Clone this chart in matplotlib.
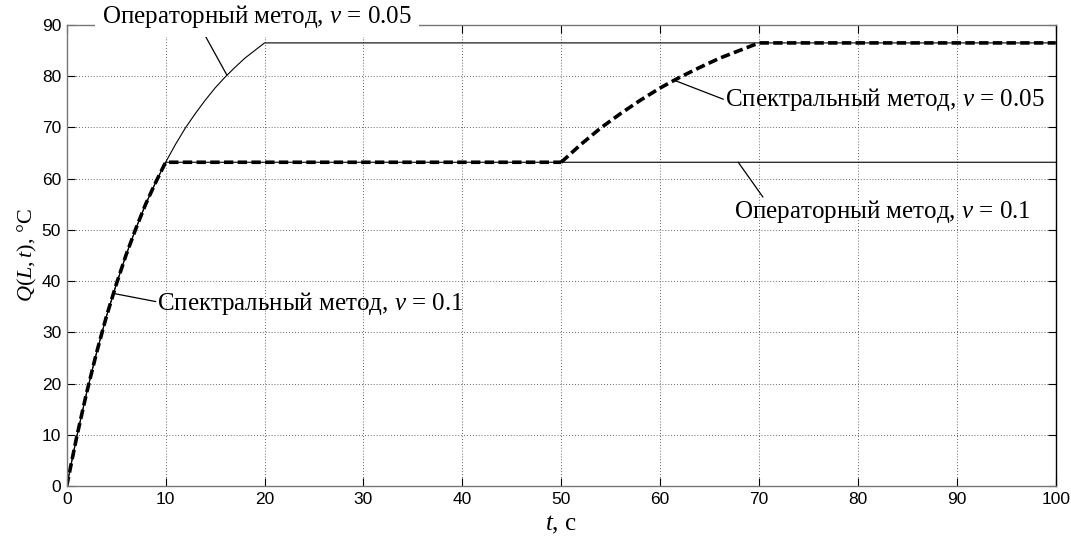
import matplotlib
matplotlib.use("Agg")
import matplotlib.pyplot as plt

# ---- data ----
t_op005 = [0, 1, 2, 3, 4, 5, 6, 7, 8, 9, 10, 11, 12, 13, 14, 15, 16, 17, 18, 19, 20, 100]
q_op005 = [0, 9.5, 18.1, 25.9, 33.0, 39.3, 45.1, 50.3, 55.1, 59.3, 63.2,
           66.7, 69.9, 72.7, 75.3, 77.7, 79.8, 81.7, 83.5, 85.0, 86.5, 86.5]

t_op01 = [0, 1, 2, 3, 4, 5, 6, 7, 8, 9, 10, 100]
q_op01 = [0, 9.5, 18.1, 25.9, 33.0, 39.3, 45.1, 50.3, 55.1, 59.3, 63.2, 63.2]

t_sp01 = [0, 1, 2, 3, 4, 5, 6, 7, 8, 9, 10, 50]
q_sp01 = [0, 9.5, 18.1, 25.9, 33.0, 39.3, 45.1, 50.3, 55.1, 59.3, 63.2, 63.2]

t_sp005 = [50, 52, 54, 56, 58, 60, 62, 64, 66, 68, 70, 100]
q_sp005 = [63.2, 66.7, 69.9, 72.7, 75.3, 77.7, 79.8, 81.7, 83.5, 85.0, 86.5, 86.5]

x_ticks = [0, 10, 20, 30, 40, 50, 60, 70, 80, 90, 100]
y_ticks = [0, 10, 20, 30, 40, 50, 60, 70, 80, 90]

lbl_op005 = "Операторный метод, $v$ = 0.05"
lbl_op01 = "Операторный метод, $v$ = 0.1"
lbl_sp01 = "Спектральный метод, $v$ = 0.1"
lbl_sp005 = "Спектральный метод, $v$ = 0.05"

plt.rcParams['mathtext.fontset'] = 'custom'
plt.rcParams['mathtext.rm'] = 'Liberation Serif'
plt.rcParams['mathtext.it'] = 'Liberation Serif:italic'

fig = plt.figure(figsize=(10.71, 5.43), dpi=100)
ax = fig.add_axes([0.0623, 0.105, 0.9234, 0.849])

ax.plot(t_op005, q_op005, color='black', lw=0.8)
ax.plot(t_op01, q_op01, color='black', lw=0.8)
ax.plot(t_sp01, q_sp01, color='black', lw=2.6, linestyle=(0, (2.6, 1.2)))
ax.plot(t_sp005, q_sp005, color='black', lw=2.6, linestyle=(0, (2.6, 1.2)))

ax.set_xlim(0, 100)
ax.set_ylim(0, 90)
ax.set_xticks(x_ticks)
ax.set_yticks(y_ticks)
ax.set_xticklabels([str(v) for v in x_ticks], fontfamily='Liberation Sans', fontsize=12.5)
ax.set_yticklabels([str(v) for v in y_ticks], fontfamily='Liberation Sans', fontsize=12.5)
ax.tick_params(direction='in', length=6, width=0.8, top=True, right=True, pad=4)
ax.grid(True, linestyle=(0, (1, 2.5)), color='#333333', lw=0.6)

for side in ['left', 'bottom', 'top']:
    ax.spines[side].set_color('#777777')
ax.spines['right'].set_color('black')
for s in ax.spines.values():
    s.set_linewidth(1.0)

serif = ['Liberation Serif', 'DejaVu Serif']
fs = 18
ax.set_xlabel("$t$, с", fontfamily=serif, fontsize=18, labelpad=5)
ax.set_ylabel("$Q(L,t)$, °C", fontfamily=serif, fontsize=16, labelpad=2)

lp = dict(arrowstyle='-', lw=0.9, color='black', shrinkA=0, shrinkB=0)

# Операторный, v=0.05
ax.annotate('', xy=(16.2, 80.2), xytext=(13.8, 88.6), arrowprops=lp, annotation_clip=False)
ax.text(3.6, 91.6, lbl_op005, fontfamily=serif, fontsize=fs, ha='left', va='center',
        clip_on=False, bbox=dict(facecolor='white', edgecolor='none', pad=5))

# Спектральный, v=0.1
ax.annotate('', xy=(4.7, 37.6), xytext=(9.0, 36.0), arrowprops=lp)
ax.text(9.1, 35.7, lbl_sp01, fontfamily=serif, fontsize=fs, ha='left', va='center')

# Операторный, v=0.1
ax.annotate('', xy=(67.9, 63.2), xytext=(70.4, 56.4), arrowprops=lp)
ax.text(82.5, 53.5, lbl_op01, fontfamily=serif, fontsize=fs, ha='center', va='center')

# Спектральный, v=0.05
ax.annotate('', xy=(61.3, 79.3), xytext=(66.4, 75.5), arrowprops=lp)
ax.text(66.6, 75.4, lbl_sp005, fontfamily=serif, fontsize=fs, ha='left', va='center')

fig.savefig('out.png', dpi=100)
